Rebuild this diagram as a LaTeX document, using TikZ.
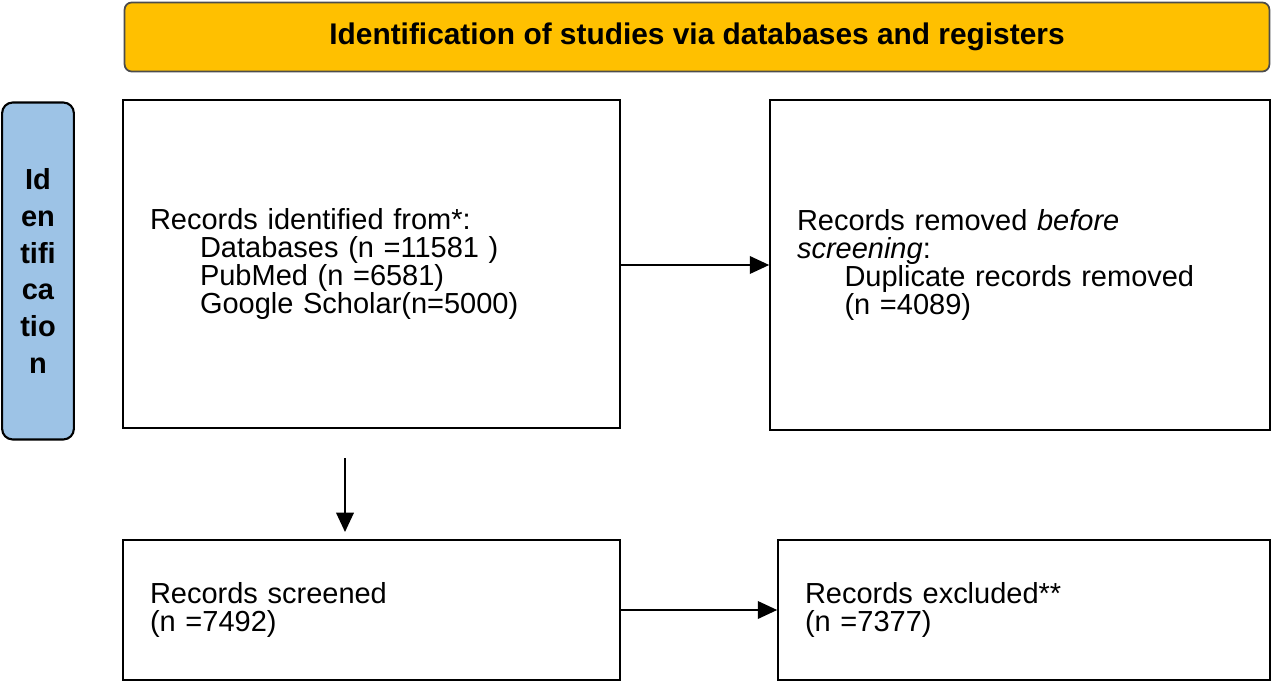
\documentclass[tikz,border=0pt]{standalone}
\usepackage{fontspec}
\setmainfont{Liberation Sans}
\usetikzlibrary{arrows.meta,positioning}
\definecolor{hdrorange}{HTML}{FFC000}
\definecolor{sideblue}{HTML}{9DC3E6}

\begin{document}
\begin{tikzpicture}[x=0.02cm,y=-0.02cm,
    header/.style={rectangle, draw=black!70, line width=1pt, fill=hdrorange, rounded corners=4pt, minimum width=22.9cm, minimum height=1.38cm, font=\fontsize{17}{20}\selectfont\bfseries},
    side/.style={rectangle, draw=black, line width=1.2pt, fill=sideblue, rounded corners=6pt, minimum width=1.4cm, minimum height=6.74cm, text width=1.2cm, align=center, font=\fontsize{16.5}{21}\selectfont\bfseries},
    recbox/.style={rectangle, draw, line width=1pt, align=left, inner sep=0.54cm, font=\fontsize{16.5}{16}\selectfont},
    arrow/.style={line width=1pt,-{Triangle[length=11pt,width=10pt]}}
]
\useasboundingbox (0,0) rectangle (1280,685);

% Header and side label
\node [header] (hdr) at (697,37) {Identification of studies via databases and registers};
\node [side] (ident) at (38,271) {Id\\en\\tifi\\ca\\tio\\n};

% Record boxes
\node [recbox, minimum width=9.94cm, minimum height=6.56cm, text width=8.86cm] (ident1) at (371.5,264)
  {Records identified from*:\\
   \hspace*{1cm}Databases (n =11581 )\\
   \hspace*{1cm}PubMed (n =6581)\\
   \hspace*{1cm}Google Scholar(n=5000)};
\node [recbox, minimum width=10cm, minimum height=6.6cm, text width=8.92cm] (removed) at (1020,265)
  {Records removed \textit{before}\\
   \textit{screening}:\\
   \hspace*{0.95cm}Duplicate records removed\\
   \hspace*{0.95cm}(n =4089)\\[1.1cm]};
\node [recbox, minimum width=9.94cm, minimum height=2.8cm, text width=8.86cm] (screened) at (371.5,610)
  {Records screened\\(n =7492)};
\node [recbox, minimum width=9.84cm, minimum height=2.8cm, text width=8.76cm] (excluded) at (1024,610)
  {Records excluded**\\(n =7377)};

% Arrows
\coordinate (down1) at (345,458);
\coordinate (down2) at (345,532);
\draw [arrow] (ident1.east |- 0,265) -- (removed.west |- 0,265);
\draw [arrow] (down1) -- (down2);
\draw [arrow] (screened.east) -- (excluded.west);
\end{tikzpicture}
\end{document}
